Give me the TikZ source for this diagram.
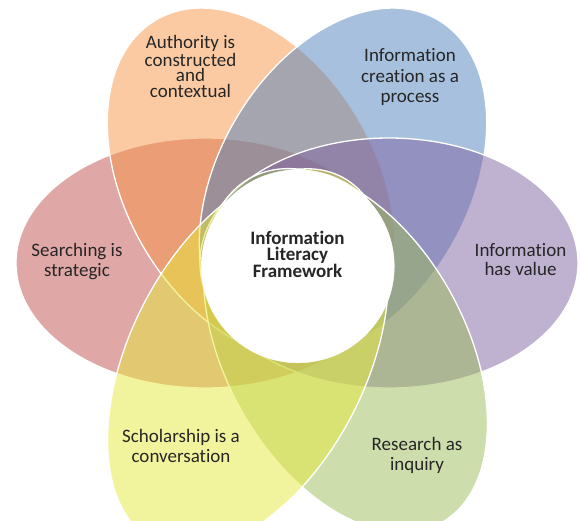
\documentclass[tikz,border=0pt]{standalone}
\usepackage{fontspec}
\setmainfont{Carlito}[Ligatures={NoCommon,NoContextual}]
\usetikzlibrary{shapes.geometric}
\definecolor{cRed}{HTML}{C0504D}
\definecolor{cOrange}{HTML}{F79646}
\definecolor{cBlue}{HTML}{4F81BD}
\definecolor{cPurple}{HTML}{8064A2}
\definecolor{cGreen}{HTML}{9BBB59}
\definecolor{cYellow}{HTML}{E6EA3C}
\definecolor{textc}{HTML}{262626}
\begin{document}
\begin{tikzpicture}[x=1pt,y=-1pt,
  petal/.style={ellipse, draw=white, line width=1.3pt, fill opacity=0.5,
    inner sep=0pt, outer sep=0pt, minimum width=378pt, minimum height=250pt},
  lbl/.style={align=center, text=textc, inner sep=0pt, anchor=base,
    font=\fontsize{19}{20.5}\selectfont},
  corecircle/.style={circle, fill=white, draw=white, inner sep=0pt, minimum size=193pt}]
\useasboundingbox (0,0) rectangle (580,520);
\clip (0,0) rectangle (580,520);
\node[petal, fill=cRed, rotate=0]      (search)   at (205,263)     {};
\node[petal, fill=cOrange, rotate=120] (auth)     at (251,183.3)   {};
\node[petal, fill=cBlue, rotate=60]    (create)   at (343,183.3)   {};
\node[petal, fill=cPurple, rotate=0]   (value)    at (389,263)     {};
\node[petal, fill=cGreen, rotate=-61, minimum width=394pt, minimum height=240pt] (research) at (345.5,350.5) {};
\node[petal, fill=cYellow, rotate=-117, minimum width=410pt, minimum height=236pt] (scholar) at (248,359.2) {};
\node[corecircle] (core) at (297.8,266.3) {};
\node[lbl, font=\fontsize{19}{16}\selectfont\bfseries] (coretext) at (297.5,277.7) {Information\\Literacy\\Framework};
\node[lbl] (tsearch) at (77,276.7) {Searching is\\strategic};
\node[lbl, font=\fontsize{19}{15.6}\selectfont] (tauth) at (190.5,97.3) {Authority is\\constructed\\and\\contextual};
\node[lbl, font=\fontsize{19}{20.5}\selectfont] (tcreate) at (410,102.7) {Information\\creation as a\\process};
\node[lbl, font=\fontsize{19}{19}\selectfont] (tvalue) at (520.5,275) {Information\\has value};
\node[lbl, font=\fontsize{19}{20}\selectfont] (tresearch) at (417,470) {Research as\\inquiry};
\node[lbl, font=\fontsize{19}{20}\selectfont] (tscholar) at (181,462.7) {Scholarship is a\\conversation};
\end{tikzpicture}
\end{document}
